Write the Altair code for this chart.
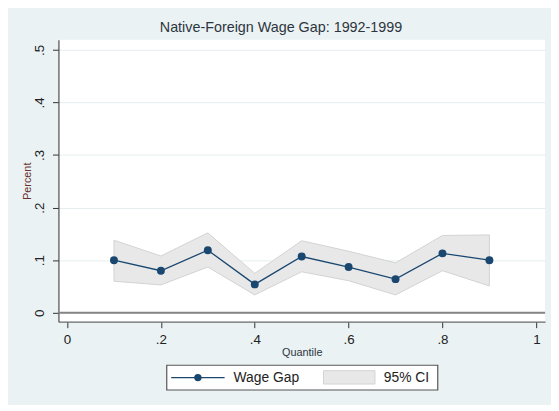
import altair as alt
import pandas as pd

# ---- data ----
quantiles = [0.1, 0.2, 0.3, 0.4, 0.5, 0.6, 0.7, 0.8, 0.9]
wage_gap = [0.100, 0.080, 0.119, 0.054, 0.107, 0.087, 0.064, 0.113, 0.100]
ci_low = [0.060, 0.053, 0.087, 0.034, 0.078, 0.061, 0.034, 0.080, 0.051]
ci_high = [0.138, 0.108, 0.152, 0.075, 0.137, 0.117, 0.095, 0.147, 0.148]
x_ticks = [0, 0.2, 0.4, 0.6, 0.8, 1]
y_ticks = [0, 0.1, 0.2, 0.3, 0.4, 0.5]
legend_labels = ["Wage Gap", "95% CI"]
title_text = "Native-Foreign Wage Gap: 1992-1999"

df = pd.DataFrame({"q": quantiles, "gap": wage_gap, "lo": ci_low, "hi": ci_high})

FONT = "Liberation Sans"
NAVY = "#1a476f"
BG = "#eaf2f3"
label_expr = ("datum.value == 0 ? '0' : datum.value == 1 ? '1' : "
              "replace(format(datum.value, '.1f'), '0.', '.')")

xscale = alt.Scale(domain=[-0.0183, 1.0186], nice=False, zero=False)
yscale = alt.Scale(domain=[-0.017, 0.519], nice=False, zero=False)

x_axis = alt.Axis(values=x_ticks, labelExpr=label_expr, title="Quantile",
                  grid=False, tickSize=6, tickColor="#333333", domainColor="#6a6a6a",
                  domainWidth=1.3, labelFontSize=13.5, labelColor="#222222",
                  labelPadding=5, titleFontSize=11, titleFontWeight="normal",
                  titleColor="#2d3540", titlePadding=1, labelFont=FONT, titleFont=FONT)
y_axis = alt.Axis(values=y_ticks, labelExpr=label_expr, title="Percent",
                  grid=True, gridColor="#e4eeef", gridWidth=1,
                  tickSize=6, tickColor="#333333", domainColor="#4a4a4a",
                  domainWidth=1.2, labelFontSize=13.5, labelColor="#222222",
                  labelAngle=270, labelAlign="center", labelBaseline="alphabetic",
                  labelPadding=9, titleFontSize=11, titleFontWeight="normal",
                  titleColor="#6a3030", titleAngle=270, titleAlign="center",
                  titleBaseline="middle", titleX=-31, titleY=142.5,
                  labelFont=FONT, titleFont=FONT)

base = alt.Chart(df)

band = base.mark_area(color="#e8e8e8", stroke="#d2d2d2", strokeWidth=1).encode(
    x=alt.X("q:Q", scale=xscale, axis=x_axis),
    y=alt.Y("lo:Q", scale=yscale, axis=y_axis),
    y2="hi:Q",
)

zero_line = alt.Chart(pd.DataFrame({"z": [0]})).mark_rule(
    color="#858585", strokeWidth=2).encode(y=alt.Y("z:Q", scale=yscale))

line = base.mark_line(color=NAVY, strokeWidth=1.3).encode(
    x=alt.X("q:Q", scale=xscale), y=alt.Y("gap:Q", scale=yscale))
pts = base.mark_circle(color=NAVY, size=64, opacity=1).encode(
    x=alt.X("q:Q", scale=xscale), y=alt.Y("gap:Q", scale=yscale))

# ---- legend (drawn manually below the plot) ----
one = pd.DataFrame({"a": [0]})
leg_box = alt.Chart(one).mark_rect(fill="white", stroke="#555555", strokeWidth=1.2).encode(
    x=alt.value(109.5), x2=alt.value(383.5), y=alt.value(329), y2=alt.value(354))
leg_line = alt.Chart(one).mark_rule(color=NAVY, strokeWidth=1.3).encode(
    x=alt.value(114), x2=alt.value(168), y=alt.value(341.5))
leg_dot = alt.Chart(one).mark_circle(color=NAVY, size=56, opacity=1).encode(
    x=alt.value(141), y=alt.value(341.5))
leg_rect = alt.Chart(one).mark_rect(fill="#e8e8e8", stroke="#d2d2d2", strokeWidth=1).encode(
    x=alt.value(268), x2=alt.value(320), y=alt.value(334.5), y2=alt.value(348))
leg_t1 = alt.Chart(pd.DataFrame({"t": [legend_labels[0]]})).mark_text(
    align="left", baseline="middle", fontSize=14, font=FONT, color="#222222").encode(
    x=alt.value(177), y=alt.value(342), text="t:N")
leg_t2 = alt.Chart(pd.DataFrame({"t": [legend_labels[1]]})).mark_text(
    align="left", baseline="middle", fontSize=14, font=FONT, color="#222222").encode(
    x=alt.value(329), y=alt.value(342), text="t:N")

chart = alt.layer(
    band, zero_line, line, pts, leg_box, leg_line, leg_dot, leg_rect, leg_t1, leg_t2
).properties(
    width=492, height=285,
    autosize=alt.AutoSizeParams(type="none"),
    padding={"left": 51, "top": 30, "right": 6, "bottom": 82},
    background=BG,
    title=alt.TitleParams(title_text, fontSize=14.5, font=FONT, fontWeight="normal",
                          color="#2d3540", anchor="middle", dx=-21, offset=4),
).configure_view(fill="white", stroke=None)

chart.save("out.html", embed_options={"renderer": "svg", "actions": False})
